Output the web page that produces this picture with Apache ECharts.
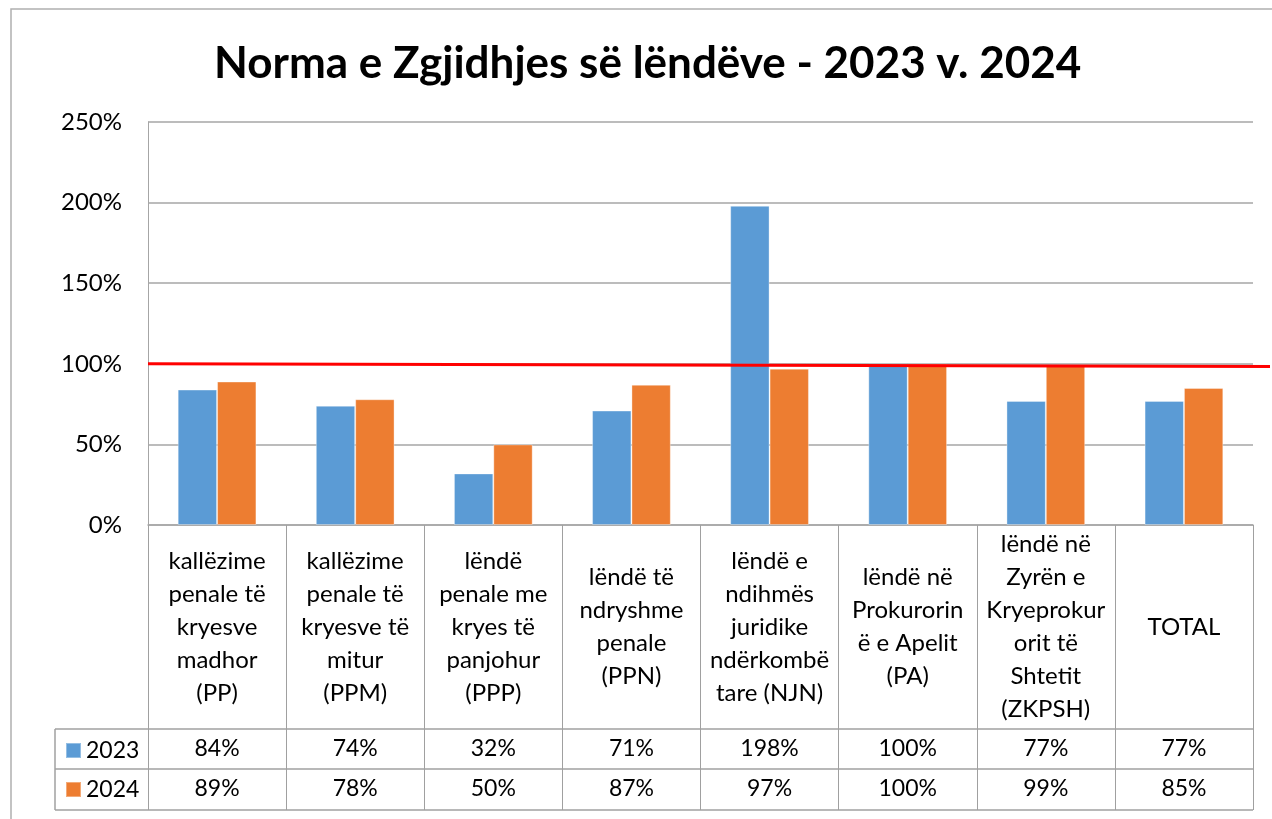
<!DOCTYPE html>
<html>
<head>
<meta charset="utf-8">
<script src="https://cdn.jsdelivr.net/npm/echarts@6/dist/echarts.min.js"></script>
<style>
  html, body { margin: 0; padding: 0; background: #fff; }
  #chart { width: 1272px; height: 819px; }
</style>
</head>
<body>
<div id="chart"></div>
<script>
// Categories as wrapped in the Excel data table
const categories = [
  "kallëzime\npenale të\nkryesve\nmadhor\n(PP)",
  "kallëzime\npenale të\nkryesve të\nmitur\n(PPM)",
  "lëndë\npenale me\nkryes të\npanjohur\n(PPP)",
  "lëndë të\nndryshme\npenale\n(PPN)",
  "lëndë e\nndihmës\njuridike\nndërkombë\ntare (NJN)",
  "lëndë në\nProkurorin\në e Apelit\n(PA)",
  "lëndë në\nZyrën e\nKryeprokur\norit të\nShtetit\n(ZKPSH)",
  "TOTAL"
];
const values2023 = [84, 74, 32, 71, 198, 100, 77, 77];
const values2024 = [89, 78, 50, 87, 97, 100, 99, 85];
const seriesNames = ["2023", "2024"];
// red 100% reference line (hand drawn, drops slightly to the right)
const refLine = [100, 98.3];

const FONT = "Lato, 'Liberation Sans', sans-serif";
const GRID = { left: 148, right: 19, top: 122, bottom: 294 };
const GRID_LINE = "#a6a6a6";
const TABLE_LINE = "#a0a0a0";
const ROW_Y = [729, 769, 810];   // bottoms of label / 2023 / 2024 rows
const LEGEND_COL_X = 55;

const chart = echarts.init(document.getElementById("chart"));

const pct = (v) => v + "%";
const valueAxis = (data, margin) => ({
  type: "category",
  data: data.map(pct),
  position: "bottom",
  axisLine: { show: false },
  axisTick: { show: false },
  axisLabel: {
    interval: 0, margin, verticalAlign: "middle",
    fontFamily: FONT, fontSize: 23, color: "#000"
  }
});

chart.setOption({
  animation: false,
  color: ["#5b9bd5", "#ed7d31"],
  title: {
    text: "Norma e Zgjidhjes së lëndëve - 2023 v. 2024",
    left: 209,
    top: 37,
    textStyle: { fontFamily: FONT, fontSize: 44, fontWeight: "bold", color: "#000" }
  },
  legend: {
    orient: "vertical",
    left: 60,
    top: 734,
    itemGap: 16,
    itemWidth: 15,
    itemHeight: 15,
    icon: "rect",
    data: seriesNames,
    textStyle: { fontFamily: FONT, fontSize: 23, color: "#000", lineHeight: 22 }
  },
  grid: GRID,
  xAxis: [
    {
      type: "category",
      data: categories,
      axisLine: { lineStyle: { color: GRID_LINE, width: 1.5 } },
      axisTick: { show: true, length: ROW_Y[2] - 525, lineStyle: { color: TABLE_LINE } },
      axisLabel: {
        interval: 0, margin: 102, verticalAlign: "middle",
        fontFamily: FONT, fontSize: 24, lineHeight: 33, color: "#000"
      }
    },
    valueAxis(values2023, 224),
    valueAxis(values2024, 264)
  ],
  yAxis: {
    type: "value",
    min: 0,
    max: 250,
    interval: 50,
    axisLine: { show: true, lineStyle: { color: GRID_LINE } },
    axisLabel: { formatter: "{value}%", margin: 26, fontFamily: FONT, fontSize: 24, color: "#000" },
    splitLine: { lineStyle: { color: GRID_LINE, width: 1.5 } }
  },
  series: [
    { name: seriesNames[0], type: "bar", data: values2023, barGap: "0%", barCategoryGap: "43%",
      itemStyle: { borderColor: "rgba(255,255,255,0.35)", borderWidth: 1 } },
    { name: seriesNames[1], type: "bar", data: values2024, barGap: "0%", barCategoryGap: "43%",
      itemStyle: { borderColor: "rgba(255,255,255,0.35)", borderWidth: 1 } }
  ]
});

// table rules, outer frame and the red reference line
const plotRight = 1272 - GRID.right;
const yA = chart.convertToPixel({ yAxisIndex: 0 }, refLine[0]);
const yB = chart.convertToPixel({ yAxisIndex: 0 }, refLine[1]);
const hLine = (y) => ({
  type: "line", silent: true,
  shape: { x1: LEGEND_COL_X, y1: y, x2: plotRight, y2: y },
  style: { stroke: TABLE_LINE, lineWidth: 1.5 }
});
chart.setOption({
  graphic: [
    { type: "rect", silent: true, shape: { x: 11, y: 9, width: 1300, height: 900 },
      style: { fill: null, stroke: "#b0b0b0", lineWidth: 1.5 } },
    hLine(ROW_Y[0]), hLine(ROW_Y[1]), hLine(ROW_Y[2]),
    { type: "line", silent: true,
      shape: { x1: LEGEND_COL_X, y1: ROW_Y[0], x2: LEGEND_COL_X, y2: ROW_Y[2] },
      style: { stroke: TABLE_LINE, lineWidth: 1.5 } },
    { type: "line", silent: true, z: 100,
      shape: { x1: GRID.left, y1: yA, x2: 1270, y2: yB },
      style: { stroke: "#ff0000", lineWidth: 3 } }
  ]
});
</script>
</body>
</html>
